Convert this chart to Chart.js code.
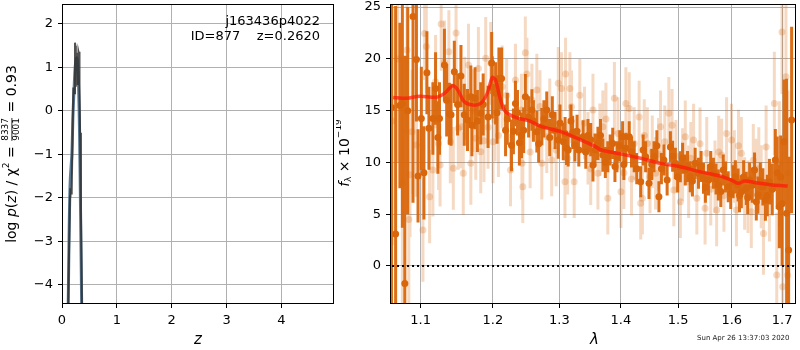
<!DOCTYPE html>
<html>
<head>
<meta charset="utf-8">
<script src="https://cdn.jsdelivr.net/npm/chart.js@4.4.1/dist/chart.umd.min.js"></script>
<style>
  body { margin: 0; background: #fff; }
  #wrap { position: relative; width: 800px; height: 350px; overflow: hidden; }
  #pz { position: absolute; left: 0; top: 0; }
  #sp { position: absolute; left: 336px; top: 0; }
  #stamp { position: absolute; left: 697px; top: 334px; font: 7px 'DejaVu Sans', sans-serif; color: #222; }
</style>
</head>
<body>
<div id="wrap">
  <canvas id="pz" width="340" height="350"></canvas>
  <canvas id="sp" width="464" height="350"></canvas>
  <div id="stamp">Sun Apr 26 13:37:03 2020</div>
</div>
<script>
// ---- p(z) panel ----
const zTicks = [0, 1, 2, 3, 4];
const logpTicks = [-4, -3, -2, -1, 0, 1, 2];
const zDark = [0.112, 0.128, 0.146, 0.152, 0.165, 0.177, 0.195, 0.207, 0.215, 0.225, 0.237, 0.243, 0.250, 0.255, 0.262, 0.272, 0.280, 0.290, 0.300, 0.310, 0.316, 0.322, 0.330, 0.345, 0.365];
const logpDark = [-4.6, -3.27, -1.97, -1.78, -1.9, -1.86, -0.36, 0.54, 0.45, 0.41, 1.57, 1.5, 1.0, 0.56, 0.9, 1.34, 1.0, 0.6, 1.36, 1.3, 1.36, 0.56, -0.5, -2.3, -4.6];
const zSmooth = [0.112, 0.13, 0.15, 0.18, 0.20, 0.22, 0.24, 0.26, 0.27, 0.28, 0.30, 0.32, 0.34, 0.36];
const logpSmooth = [-4.6, -2.8, -1.6, -1.0, -0.1, 0.5, 1.0, 1.2, 1.22, 1.15, 0.7, -0.5, -2.5, -4.6];

// ---- spectrum panel ----
const lamTicks = [1.1, 1.2, 1.3, 1.4, 1.5, 1.6, 1.7];
const fluxTicks = [0, 5, 10, 15, 20, 25];

const modelLam = [1.0641, 1.0814, 1.0987, 1.1206, 1.1319, 1.1433, 1.1503, 1.1593, 1.1710, 1.1825, 1.1918, 1.1991, 1.2039, 1.2112, 1.2184, 1.2330, 1.2527, 1.2728, 1.3034, 1.3347, 1.3564, 1.3673, 1.4001, 1.4338, 1.4684, 1.5039, 1.5402, 1.5774, 1.5995, 1.6123, 1.6251, 1.6546, 1.6810, 1.7114];
const modelFlux = [16.28, 16.19, 16.4, 16.3, 16.67, 17.4, 17.0, 15.86, 15.54, 15.7, 16.67, 18.2, 17.95, 16.0, 14.9, 14.35, 14.03, 13.45, 12.96, 12.16, 11.58, 11.2, 10.81, 10.4, 9.91, 9.58, 9.1, 8.69, 8.3, 7.98, 8.2, 7.98, 7.82, 7.72];

const darkLam = [1.0620, 1.0673, 1.0728, 1.0760, 1.0792, 1.0830, 1.0899, 1.0944, 1.0965, 1.1009, 1.1043, 1.1083, 1.1110, 1.1163, 1.1199, 1.1230, 1.1252, 1.1319, 1.1350, 1.1387, 1.1410, 1.1455, 1.1500, 1.1547, 1.1593, 1.1638, 1.1685, 1.1700, 1.1745, 1.1778, 1.1825, 1.1860, 1.1930, 1.1982, 1.1991, 1.2039, 1.2060, 1.2087, 1.2126, 1.2184, 1.2210, 1.2272, 1.2300, 1.2330, 1.2360, 1.2389, 1.2420, 1.2453, 1.2478, 1.2527, 1.2577, 1.2600, 1.2652, 1.2680, 1.2728, 1.2760, 1.2804, 1.2850, 1.2890, 1.2932, 1.2983, 1.3010, 1.3061, 1.3090, 1.3113, 1.3139, 1.3182, 1.3210, 1.3245, 1.3280, 1.3308, 1.3377, 1.3420, 1.3456, 1.3500, 1.3537, 1.3570, 1.3618, 1.3660, 1.3699, 1.3740, 1.3781, 1.3820, 1.3863, 1.3900, 1.3934, 1.3980, 1.4029, 1.4050, 1.4084, 1.4141, 1.4180, 1.4226, 1.4270, 1.4338, 1.4380, 1.4424, 1.4482, 1.4530, 1.4569, 1.4620, 1.4656, 1.4700, 1.4744, 1.4802, 1.4860, 1.4900, 1.4949, 1.4990, 1.5039, 1.5080, 1.5129, 1.5170, 1.5219, 1.5260, 1.5310, 1.5372, 1.5420, 1.5464, 1.5500, 1.5557, 1.5600, 1.5650, 1.5700, 1.5743, 1.5790, 1.5837, 1.5880, 1.5932, 1.5980, 1.6027, 1.6070, 1.6123, 1.6150, 1.6186, 1.6230, 1.6283, 1.6310, 1.6348, 1.6400, 1.6445, 1.6480, 1.6512, 1.6560, 1.6611, 1.6662, 1.6700, 1.6742, 1.6800, 1.6862, 1.6900, 1.6943, 1.6971, 1.7000, 1.7040, 1.7093, 1.7134, 1.7196];
const darkFlux = [15.3, 3.1, 15.5, 15.7, -1.7, 15.0, 24.1, 19.95, 8.7, 14.25, 9.0, 18.66, 13.3, 14.25, 17.15, 12.4, 14.25, 19.4, 16.0, 14.7, 14.6, 18.75, 15.6, 18.34, 14.6, 14.1, 16.35, 13.6, 16.2, 14.0, 14.74, 15.6, 14.4, 19.6, 17.25, 16.67, 14.8, 18.1, 18.1, 13.1, 14.2, 11.65, 13.0, 15.7, 14.8, 11.9, 12.6, 13.1, 16.35, 14.4, 15.06, 14.0, 12.96, 11.8, 13.45, 14.2, 15.06, 12.4, 14.6, 13.1, 12.16, 13.8, 12.0, 12.8, 11.36, 11.2, 14.0, 12.9, 11.68, 13.0, 11.2, 12.48, 11.0, 12.6, 12.2, 9.75, 11.2, 11.84, 12.6, 10.71, 10.0, 10.55, 11.2, 11.84, 9.6, 10.55, 11.6, 12.48, 9.8, 11.36, 12.48, 11.0, 10.55, 9.4, 8.14, 11.2, 10.55, 7.98, 9.8, 10.55, 11.6, 6.69, 9.4, 10.23, 8.3, 11.5, 10.6, 9.91, 8.6, 9.58, 10.4, 9.27, 9.6, 8.62, 8.2, 9.91, 8.95, 9.6, 8.47, 7.6, 8.3, 9.6, 8.95, 8.4, 7.82, 7.2, 9.27, 8.6, 7.65, 7.0, 8.14, 8.6, 7.82, 6.8, 7.17, 8.6, 7.5, 6.6, 8.3, 7.8, 9.27, 6.2, 6.85, 8.2, 7.65, 6.37, 6.8, 8.14, 7.4, 10.23, 9.0, 5.72, 8.6, 6.0, 12.0, 5.09, 1.54, 14.1];
const darkErr = [20, 22, 8, 12, 22, 10, 18, 6, 4.5, 5, 4.5, 4, 4, 3.5, 3.5, 3.5, 3.5, 3.5, 3.5, 3, 3, 3, 3, 3, 3, 3, 3, 3, 3, 3, 3, 3, 3, 3, 3, 3, 3, 3, 3, 2.5, 2.5, 2.5, 2.2, 2.2, 2.2, 2.2, 2.2, 2.2, 2.2, 2, 2, 2, 2, 1.8, 1.8, 1.8, 1.8, 1.8, 1.8, 1.8, 1.8, 1.8, 1.8, 1.6, 1.6, 1.6, 1.6, 1.6, 1.6, 1.6, 1.6, 1.6, 1.6, 1.6, 1.6, 1.6, 1.6, 1.6, 1.6, 1.6, 1.5, 1.5, 1.5, 1.5, 1.5, 1.5, 1.5, 1.5, 1.5, 1.5, 1.5, 1.5, 1.5, 1.5, 1.5, 1.5, 1.5, 1.5, 1.5, 1.5, 1.5, 1.5, 1.5, 1.5, 1.5, 1.5, 1.5, 1.5, 1.5, 1.5, 1.5, 1.5, 1.5, 1.5, 1.5, 1.5, 1.5, 1.5, 1.5, 1.5, 1.5, 1.5, 1.5, 1.5, 1.5, 1.5, 1.5, 1.5, 1.5, 1.5, 1.6, 1.6, 1.6, 1.6, 1.6, 1.6, 1.6, 1.6, 1.7, 1.7, 1.7, 1.8, 1.8, 1.8, 1.8, 2, 2, 2.2, 2.5, 3, 3.5, 4, 4, 6, 6, 13, 9, 9, 15];

const paleLam = [1.0630, 1.0700, 1.0760, 1.0820, 1.0844, 1.0860, 1.0886, 1.0944, 1.1030, 1.1053, 1.1075, 1.1119, 1.1163, 1.1199, 1.1240, 1.1260, 1.1275, 1.1319, 1.1380, 1.1400, 1.1441, 1.1479, 1.1510, 1.1547, 1.1579, 1.1600, 1.1652, 1.1685, 1.1720, 1.1755, 1.1792, 1.1825, 1.1872, 1.1896, 1.1930, 1.1968, 1.2001, 1.2030, 1.2080, 1.2135, 1.2200, 1.2257, 1.2330, 1.2419, 1.2427, 1.2440, 1.2478, 1.2502, 1.2550, 1.2577, 1.2652, 1.2700, 1.2728, 1.2804, 1.2850, 1.2880, 1.2950, 1.2983, 1.3034, 1.3088, 1.3097, 1.3130, 1.3166, 1.3191, 1.3234, 1.3324, 1.3400, 1.3456, 1.3500, 1.3537, 1.3618, 1.3650, 1.3699, 1.3750, 1.3781, 1.3891, 1.3950, 1.4001, 1.4050, 1.4084, 1.4141, 1.4180, 1.4226, 1.4311, 1.4338, 1.4367, 1.4400, 1.4453, 1.4500, 1.4539, 1.4597, 1.4650, 1.4684, 1.4760, 1.4832, 1.4890, 1.4921, 1.4960, 1.5039, 1.5080, 1.5129, 1.5190, 1.5230, 1.5281, 1.5341, 1.5400, 1.5494, 1.5525, 1.5600, 1.5680, 1.5711, 1.5750, 1.5805, 1.5850, 1.5900, 1.5995, 1.6050, 1.6090, 1.6130, 1.6186, 1.6250, 1.6316, 1.6381, 1.6420, 1.6479, 1.6530, 1.6577, 1.6623, 1.6676, 1.6742, 1.6842, 1.6891, 1.6943, 1.6998, 1.7012, 1.7079, 1.7114, 1.7120];
const paleFlux = [14, 20, 8, 20.85, 4.5, 8.8, 12.96, 11.68, 3.47, 22.46, 21.2, 6.69, 9.27, 17.8, 11.84, 9.75, 23.36, 19.7, 20.7, 12.0, 9.43, 22.5, 13.3, 13.45, 8.95, 16.2, 19.4, 9.91, 15.0, 12.33, 19.08, 11.03, 12.1, 20.05, 13.4, 19.57, 12.0, 14.1, 12.6, 17.3, 16.5, 9.27, 17.95, 15.06, 9.91, 7.65, 20.6, 18.53, 11.0, 16.02, 17.0, 15.4, 9.91, 12.48, 14.6, 10.23, 11.2, 17.64, 17.15, 8.14, 18.53, 10.4, 17.15, 15.38, 8.14, 16.5, 13.8, 11.36, 9.4, 15.06, 8.95, 12.2, 13.45, 14.2, 6.53, 16.2, 12.8, 7.17, 9.0, 15.7, 15.2, 8.4, 11.84, 14.4, 6.05, 6.53, 12.6, 11.84, 8.6, 11.03, 8.95, 10.8, 13.45, 12.0, 14.74, 13.6, 7.33, 10.6, 6.2, 9.8, 12.48, 8.14, 10.4, 12.16, 6.53, 11.8, 5.57, 10.88, 7.4, 8.62, 5.4, 11.0, 10.71, 6.8, 12.8, 12.16, 9.6, 5.4, 11.6, 10.88, 7.0, 6.69, 5.24, 10.2, 8.78, 9.4, 7.65, 3.15, 11.5, 6.37, 15.7, -0.87, 9.91, 22.6, -2.0, 18.27, -0.87, 8.95];
const paleErr = [12, 10, 12, 8, 9, 6, 6, 5, 5, 4.5, 4.5, 4.5, 4.5, 4.5, 4.5, 4, 4.5, 4, 4, 4, 4, 4, 4, 4, 4, 4, 4, 4, 4, 4, 4, 4, 4, 4, 4, 4, 4, 4, 4, 4, 3.5, 3.5, 3.5, 3.5, 3.5, 3.5, 3.5, 3.5, 3.5, 3.5, 3.5, 3.5, 3.5, 3.5, 3.5, 3.5, 3.5, 3.5, 3.5, 3.5, 3.5, 3.5, 3.5, 3.5, 3.5, 3.5, 3.5, 3.5, 3.5, 3.5, 3.5, 3.5, 3.5, 3.5, 3.5, 3.5, 3.5, 3.5, 3.5, 3.5, 3.5, 3.5, 3.5, 3.5, 3.5, 3.5, 3.5, 3.5, 3.5, 3.5, 3.5, 3.5, 3.5, 3.5, 3.5, 3.5, 3.5, 3.5, 3.5, 3.5, 3.5, 3.5, 3.5, 3.5, 3.5, 3.5, 3.5, 3.5, 3.5, 3.5, 3.5, 3.5, 3.5, 3.5, 3.5, 3.5, 3.5, 3.5, 3.5, 3.5, 3.5, 3.5, 3.5, 3.5, 3.5, 4, 4, 4, 4, 4, 5, 6, 6, 6, 8, 8, 8, 8, 8];

const ORANGE = 'rgb(217,102,10)';
const ORANGE_PALE = 'rgba(217,102,10,0.25)';
const GRID = '#b0b0b0';
const FONT = "'DejaVu Sans', sans-serif";

function errSegs(xs, ys, es) {
  const out = [];
  xs.forEach((x, i) => {
    out.push({ x: x, y: ys[i] - es[i] }, { x: x, y: ys[i] + es[i] }, { x: x, y: null });
  });
  return out;
}
const pts = (xs, ys) => xs.map((x, i) => ({ x: x, y: ys[i] }));
const minus = v => String(v).replace('-', '\u2212');

// draws a row of text pieces, centred on (cx, cy), optionally rotated
function drawRich(ctx, parts, cx, cy, rot) {
  ctx.save();
  ctx.translate(cx, cy);
  if (rot) ctx.rotate(-Math.PI / 2);
  ctx.fillStyle = '#000';
  ctx.textBaseline = 'middle';
  let total = 0;
  parts.forEach(p => {
    ctx.font = p.font;
    if (p.frac) p.w = Math.max(ctx.measureText(p.num).width, ctx.measureText(p.den).width) + 2;
    else p.w = ctx.measureText(p.t).width;
    total += p.w;
  });
  let x = -total / 2;
  parts.forEach(p => {
    ctx.font = p.font;
    if (p.frac) {
      ctx.textAlign = 'center';
      ctx.fillText(p.num, x + p.w / 2, -6);
      ctx.fillText(p.den, x + p.w / 2, 5);
      ctx.fillRect(x + 1, -0.5, p.w - 2, 0.8);
    } else {
      ctx.textAlign = 'left';
      ctx.fillText(p.t, x, p.dy || 0);
    }
    x += p.w;
  });
  ctx.restore();
}

const framePlugin = {
  id: 'frame',
  afterDatasetsDraw(chart) {
    const a = chart.chartArea, ctx = chart.ctx;
    ctx.save();
    ctx.strokeStyle = '#000';
    ctx.lineWidth = 1;
    ctx.strokeRect(Math.round(a.left) + 0.5, Math.round(a.top) + 0.5, Math.round(a.right - a.left) - 1, Math.round(a.bottom - a.top) - 1);
    ctx.restore();
  }
};

function axisOpts(ticksArr, min, max, fmt, size, type) {
  return {
    type: type || 'linear',
    min: min, max: max,
    afterBuildTicks: s => { s.ticks = ticksArr.map(v => ({ value: v })); },
    afterFit: s => {
      if (s.isHorizontal()) s.height = size; else s.width = size;
      // no label overflow padding, the plot box is fixed
      s.paddingTop = 0; s.paddingBottom = 0; s.paddingLeft = 0; s.paddingRight = 0;
    },
    grid: { color: GRID, lineWidth: 1, tickColor: '#000', tickLength: 4, drawTicks: true },
    border: { display: false },
    ticks: { color: '#000', font: { family: FONT, size: 13 }, padding: 5, callback: fmt, autoSkip: false, maxRotation: 0 }
  };
}

const pzLabels = {
  id: 'pzLabels',
  afterDraw(chart) {
    const ctx = chart.ctx;
    ctx.save();
    ctx.fillStyle = '#000';
    ctx.font = '13px ' + FONT;
    ctx.textAlign = 'right';
    ctx.textBaseline = 'middle';
    ctx.fillText('j163436p4022', 320, 22);
    ctx.fillText('ID=877    z=0.2620', 320, 37);
    ctx.font = 'italic 15px ' + FONT;
    ctx.textAlign = 'center';
    ctx.fillText('z', 198, 340);
    ctx.restore();
    const f = '14px ' + FONT, fi = 'italic 14px ' + FONT, fs = '9px ' + FONT;
    drawRich(ctx, [
      { t: 'log ', font: f }, { t: 'p', font: fi }, { t: '(', font: f }, { t: 'z', font: fi },
      { t: ') / \u03c7', font: f }, { t: '2', font: fs, dy: -5 }, { t: ' = ', font: f },
      { frac: true, num: '8337', den: '9001', font: fs }, { t: ' = 0.93', font: f }
    ], 12, 154, true);
  }
};

new Chart(document.getElementById('pz'), {
  type: 'line',
  data: {
    datasets: [
      { data: pts(zDark, logpDark), borderColor: 'rgba(50,50,50,0.85)', borderWidth: 2, pointRadius: 0, tension: 0 },
      { data: pts(zSmooth, logpSmooth), borderColor: 'rgba(70,105,135,0.9)', borderWidth: 3, pointRadius: 0, tension: 0.3 }
    ]
  },
  options: {
    responsive: false, animation: false,
    layout: { padding: { top: 4, right: 6, left: 0, bottom: 0 } },
    plugins: { legend: { display: false }, tooltip: { enabled: false } },
    scales: {
      x: axisOpts(zTicks, 0, 4.96, v => String(v), 46),
      y: axisOpts(logpTicks, -4.44, 2.46, v => minus(v), 62)
    }
  },
  plugins: [framePlugin, pzLabels]
});

const spLabels = {
  id: 'spLabels',
  afterDraw(chart) {
    const ctx = chart.ctx;
    ctx.save();
    ctx.fillStyle = '#000';
    ctx.font = 'italic 15px ' + FONT;
    ctx.textAlign = 'center';
    ctx.textBaseline = 'middle';
    ctx.fillText('\u03bb', 594.5 - 336, 340);
    ctx.restore();
    const f = '14px ' + FONT, fi = 'italic 14px ' + FONT, fs = '9px ' + FONT;
    drawRich(ctx, [
      { t: 'f', font: fi }, { t: '\u03bb', font: fs, dy: 4 }, { t: ' \u00d7 10', font: f }, { t: '\u221219', font: fs, dy: -6 }
    ], 345 - 336, 153, true);
  }
};

new Chart(document.getElementById('sp'), {
  type: 'line',
  data: {
    datasets: [
      { order: 1, data: pts(modelLam, modelFlux), borderColor: 'rgba(255,25,10,0.72)', borderWidth: 3.5, pointRadius: 0, tension: 0.3 },
      { order: 2, data: [{ x: 1.05, y: 0 }, { x: 1.75, y: 0 }], borderColor: '#000', borderWidth: 2, borderDash: [2, 3], pointRadius: 0 },
      { order: 3, data: pts(darkLam, darkFlux), showLine: false, pointRadius: 3.5, pointBackgroundColor: ORANGE, pointBorderWidth: 0 },
      { order: 4, data: errSegs(darkLam, darkFlux, darkErr), borderColor: 'rgba(217,102,10,0.95)', borderWidth: 3, pointRadius: 0, borderCapStyle: 'butt' },
      { order: 5, data: pts(paleLam, paleFlux), showLine: false, pointRadius: 3.5, pointBackgroundColor: ORANGE_PALE, pointBorderWidth: 0 },
      { order: 6, data: errSegs(paleLam, paleFlux, paleErr), borderColor: ORANGE_PALE, borderWidth: 3, pointRadius: 0, borderCapStyle: 'butt' }
    ]
  },
  options: {
    responsive: false, animation: false,
    layout: { padding: { top: 4, right: 1, left: 0, bottom: 0 } },
    plugins: { legend: { display: false }, tooltip: { enabled: false } },
    scales: {
      x: axisOpts(lamTicks, 1.0601, 1.7287, v => Number(v).toFixed(1), 46, 'logarithmic'),
      y: axisOpts(fluxTicks, -3.67, 25.3, v => minus(v), 54)
    }
  },
  plugins: [framePlugin, spLabels]
});
</script>
</body>
</html>
